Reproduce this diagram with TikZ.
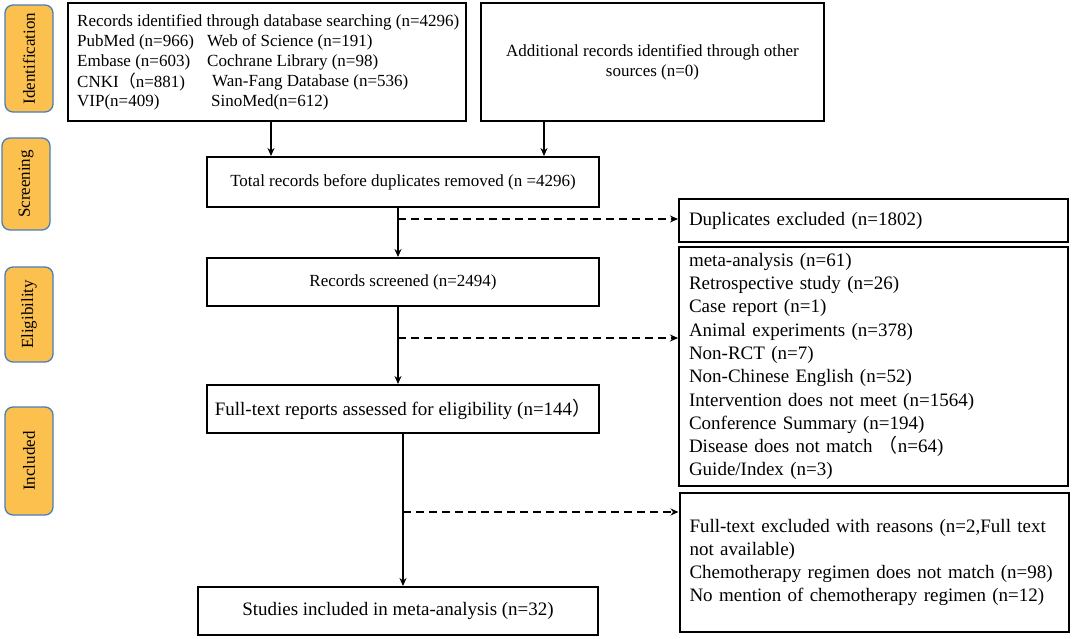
\documentclass[tikz,border=0pt]{standalone}
\usepackage{fontspec}
\setmainfont{Liberation Serif}
\newfontfamily\cjk{Noto Sans CJK SC}
\usetikzlibrary{arrows.meta}
\definecolor{stagefill}{HTML}{FCC04E}
\definecolor{stageline}{HTML}{4A7EBB}
\newcommand\fsA{\fontsize{17}{20}\selectfont}
\newcommand\fsB{\fontsize{19}{23.3}\selectfont}
\begin{document}
\begin{tikzpicture}[x=1pt,y=-1pt,
  box/.style={draw, line width=2pt, inner sep=0pt, font=\fsA},
  rbox/.style={draw, line width=2pt, inner ysep=0pt, inner xsep=10pt, font=\fsB, align=left, text width=369pt},
  stage/.style={draw=stageline, fill=stagefill, rounded corners=8pt, line width=1.3pt, inner sep=0pt, font=\fsA, minimum height=48pt},
  txt/.style={anchor=west, inner sep=0pt, font=\fsA},
  arr/.style={line width=1.9pt, -{Stealth[length=8pt,width=7pt]}},
  dasharr/.style={arr, dash pattern=on 8pt off 5pt}]
\useasboundingbox (0,0) rectangle (1072,638);
\fill[white] (0,0) rectangle (1072,638);

% stage labels
\node[stage, rotate=90, minimum width=107pt] (sid) at (29,58.5) {Identification};
\node[stage, rotate=90, minimum width=92pt] (sscr) at (26,184) {Screening};
\node[stage, rotate=90, minimum width=95pt] (selig) at (29,314.5) {Eligibility};
\node[stage, rotate=90, minimum width=108pt] (sinc) at (29,461) {Included};

% top boxes
\node[box, minimum width=398pt, minimum height=118pt] (db) at (267,62) {};
\node[txt] (t1) at (77,22) {Records identified through database searching (n=4296)};
\node[txt] (t2a) at (77,42) {PubMed (n=966)};
\node[txt] (t2b) at (207,42) {Web of Science (n=191)};
\node[txt] (t3a) at (77,62) {Embase (n=603)};
\node[txt] (t3b) at (207,62) {Cochrane Library (n=98)};
\node[txt] (t4a) at (77,82) {CNKI{\cjk （}n=881)};
\node[txt] (t4b) at (212,82) {Wan-Fang Database (n=536)};
\node[txt] (t5a) at (77,102) {VIP(n=409)};
\node[txt] (t5b) at (211,102) {SinoMed(n=612)};

\node[box, minimum width=343pt, minimum height=118pt, align=center] (other) at (652.5,62)
  {Additional records identified through other\\sources (n=0)};

% main column
\node[box, minimum width=392pt, minimum height=50pt] (total) at (403,182)
  {Total records before duplicates removed (n =4296)};
\node[box, minimum width=392pt, minimum height=48pt] (scr) at (403,282)
  {Records screened (n=2494)};
\node[box, font=\fsB, minimum width=392pt, minimum height=48pt] (full) at (403,409)
  {Full-text reports assessed for eligibility (n=144{\cjk ）}};
\node[box, font=\fsB, minimum width=400pt, minimum height=48pt] (inc) at (398,611)
  {Studies included in meta-analysis (n=32)};

% right column
\node[rbox, minimum height=43pt] (dup) at (873.5,220.5) {Duplicates excluded (n=1802)};
\node[rbox, minimum height=239pt] (excl) at (873.5,366.5)
  {meta-analysis (n=61)\\
   Retrospective study (n=26)\\
   Case report (n=1)\\
   Animal experiments (n=378)\\
   Non-RCT (n=7)\\
   Non-Chinese English (n=52)\\
   Intervention does not meet (n=1564)\\
   Conference Summary (n=194)\\
   Disease does not match {\cjk （}n=64)\\
   Guide/Index (n=3)};
\node[rbox, minimum height=139pt] (excl2) at (874,562.5)
  {Full-text excluded with reasons (n=2,Full text\\
   not available)\\
   Chemotherapy regimen does not match (n=98)\\
   No mention of chemotherapy regimen (n=12)};

% connectors
\coordinate (ax1) at (271,0);
\coordinate (ax2) at (544,0);
\coordinate (cx1) at (398,0);
\coordinate (cx2) at (403,0);
\coordinate (d1) at (398,219);
\coordinate (d2) at (398,338);
\coordinate (d3) at (403,512);
\draw[arr] (db.south -| ax1) -- (total.north -| ax1);
\draw[arr] (other.south -| ax2) -- (total.north -| ax2);
\draw[arr] (total.south -| cx1) -- (scr.north -| cx1);
\draw[arr] (scr.south -| cx1) -- (full.north -| cx1);
\draw[arr] (full.south -| cx2) -- (inc.north -| cx2);
\draw[dasharr] (d1) -- (d1 -| dup.west);
\draw[dasharr] (d2) -- (d2 -| excl.west);
\draw[dasharr] (d3) -- (d3 -| excl2.west);
\end{tikzpicture}
\end{document}
